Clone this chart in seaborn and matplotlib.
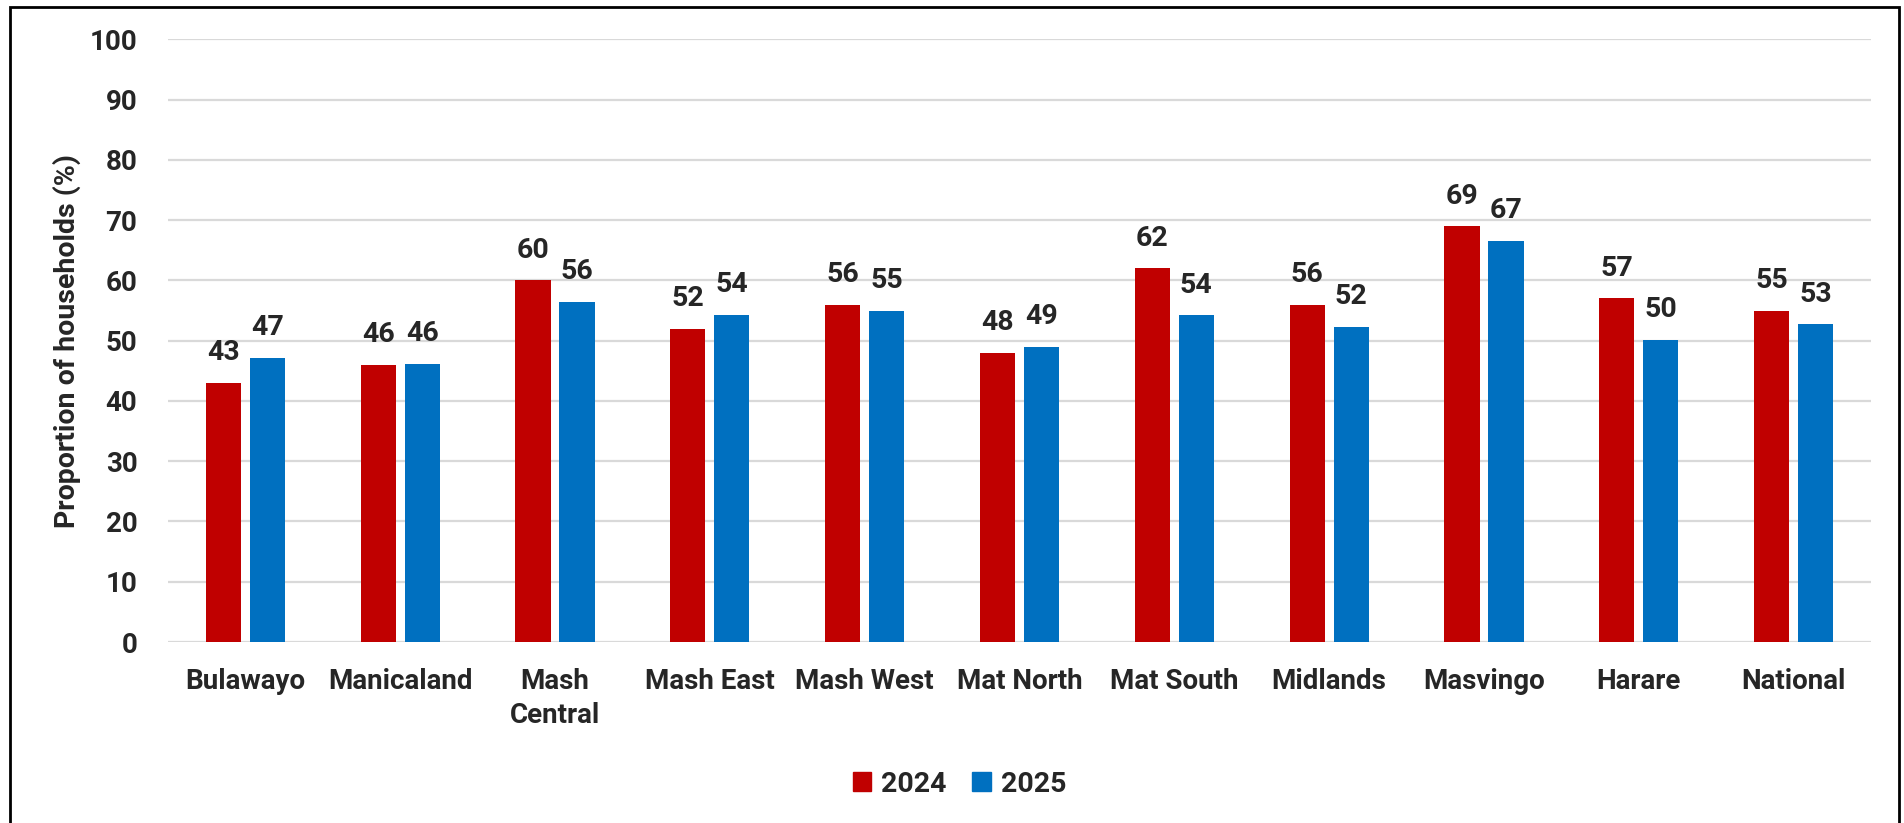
import pandas as pd
import seaborn as sns
import matplotlib.pyplot as plt
import matplotlib.patches as mpatches

sns.set_style('white')
plt.rcParams['font.family'] = ['Roboto', 'DejaVu Sans']
plt.rcParams['font.weight'] = 'bold'

# data
regions = ['Bulawayo', 'Manicaland', 'Mash\nCentral', 'Mash East', 'Mash West',
           'Mat North', 'Mat South', 'Midlands', 'Masvingo', 'Harare', 'National']
years = ['2024', '2025']
vals_2024 = [43, 46, 60, 52, 56, 48, 62, 56, 69, 57, 55]
vals_2025 = [47.1, 46.2, 56.4, 54.3, 55.0, 49.0, 54.2, 52.3, 66.6, 50.1, 52.7]
colors = ['#C00000', '#0070C0']

df = pd.DataFrame({
    'region': regions * 2,
    'year': [years[0]] * len(regions) + [years[1]] * len(regions),
    'value': vals_2024 + vals_2025,
})

fig = plt.figure(figsize=(19.04, 8.23), dpi=100)
ax = fig.add_axes([0.0882, 0.2199, 0.8945, 0.7323])

sns.barplot(data=df, x='region', y='value', hue='year', palette=colors,
            width=0.568, gap=0.2, saturation=1, linewidth=0, ax=ax)

for cont in ax.containers:
    ax.bar_label(cont, fmt='%.0f', padding=12, fontsize=20.5, fontweight='bold')

ax.set_ylim(0, 100)
ax.set_xlim(-0.5, len(regions) - 0.5)
ax.set_yticks(range(0, 101, 10))
ax.yaxis.grid(True, color='#D9D9D9', linewidth=1.6)
ax.set_axisbelow(True)
for s in ax.spines.values():
    s.set_visible(False)

ax.tick_params(axis='y', length=0, pad=22, labelsize=20)
ax.tick_params(axis='x', length=0, pad=19, labelsize=20)
for lbl in ax.get_xticklabels() + ax.get_yticklabels():
    lbl.set_fontweight('bold')
for lbl in ax.get_xticklabels():
    lbl.set_linespacing(1.3)

ax.set_xlabel('')
ax.set_ylabel('Proportion of households (%)', fontsize=20.5, fontweight='bold')
ax.yaxis.set_label_coords(-0.051, 0.5)

ax.get_legend().remove()
handles = [mpatches.Patch(color=c, label=y) for c, y in zip(colors, years)]
ax.legend(handles=handles, loc='center', bbox_to_anchor=(0.504, 0.047),
          bbox_transform=fig.transFigure, ncol=2, frameon=False,
          prop={'size': 20.5, 'weight': 'bold'},
          handlelength=0.64, handleheight=0.64, handletextpad=0.35,
          columnspacing=0.9)

# outer frame
fig.patches.append(mpatches.Rectangle((0.005, -0.02), 0.9924, 1.0115,
                                      transform=fig.transFigure, fill=False,
                                      edgecolor='black', linewidth=2,
                                      clip_on=False))

fig.savefig('out.png', dpi=100)
